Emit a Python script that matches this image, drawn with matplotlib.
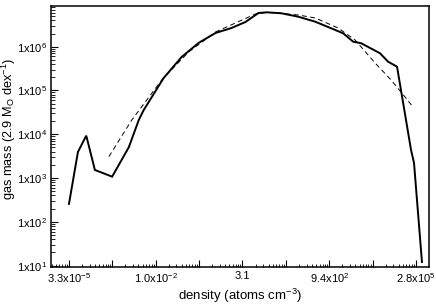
import numpy as np
import matplotlib
matplotlib.use("Agg")
import matplotlib.pyplot as plt
from matplotlib.ticker import NullFormatter

plt.rcParams["font.family"] = ["Liberation Sans", "DejaVu Sans"]
plt.rcParams["mathtext.default"] = "regular"

# ---- data ----
density_solid = [3.3e-5, 5.96e-5, 1.03e-4, 1.82e-4, 5.67e-4, 1.70e-3, 3.28e-3, 4.55e-3,
                 0.0169, 0.0552, 0.169, 0.516, 1.47, 3.70, 8.69, 14.7, 39.4, 120,
                 368, 1052, 2316, 4466, 7550, 2.63e4, 4.45e4, 8.04e4, 2.02e5, 2.46e5, 4.15e5]
mass_solid = [257, 3950, 9290, 1530, 1076, 5050, 2.12e4, 3.59e4,
              1.93e5, 5.82e5, 1.22e6, 2.06e6, 2.67e6, 3.67e6, 5.88e6, 6.10e6, 5.80e6, 4.84e6,
              3.72e6, 2.63e6, 2.02e6, 1.30e6, 1.20e6, 7.06e5, 4.55e5, 3.49e5, 4390, 2210, 12.1]

density_fit = [4.57e-4, 2.07e-3, 0.0149, 0.0875, 0.516, 1.92, 7.14, 16.8, 120, 368,
               1667, 5090, 1.89e4, 5.42e4, 1.36e5, 2.30e5]
mass_fit = [3080, 2.12e4, 1.74e5, 7.57e5, 2.17e6, 3.48e6, 5.58e6, 6.10e6, 5.30e6, 4.52e6,
            2.67e6, 1.42e6, 4.25e5, 1.74e5, 7.11e4, 4.20e4]

# x ticks: step factor between tall ticks, labels on every other one
x_tick_first = 3.3e-5
x_tick_last = 2.8e5
x_labels = ["3.3x10$^{-5}$", "1.0x10$^{-2}$", "3.1", "9.4x10$^{2}$", "2.8x10$^{5}$"]
y_labels = ["1x10$^{%d}$" % k for k in range(1, 7)]

# ---- plot ----
fig = plt.figure(figsize=(4.36, 3.08), dpi=100)
ax = fig.add_axes([51 / 436, 1 - 267 / 308, 378 / 436, 261 / 308])

ax.plot(density_solid, mass_solid, color="black", lw=1.4, solid_joinstyle="miter")
ax.plot(density_fit, mass_fit, color="black", lw=0.7, linestyle=(0, (5, 3.5)))

ax.set_xscale("log")
ax.set_yscale("log")
ax.set_xlim(1.01e-5, 6.6e5)
ax.set_ylim(9.3, 8.5e6)

# x major/minor ticks
n_steps = 8
step = (x_tick_last / x_tick_first) ** (1 / n_steps)
expo = np.log10(step)
majors = [x_tick_first * step ** i for i in range(n_steps + 1)]
minors = []
for i in range(-1, n_steps + 1):
    base = x_tick_first * step ** i
    for k in range(2, 10):
        v = base * k ** expo
        if 1.01e-5 < v < 6.6e5:
            minors.append(v)
ax.set_xticks(majors)
ax.set_xticklabels([x_labels[i // 2] if i % 2 == 0 else "" for i in range(n_steps + 1)])
ax.set_xticks(minors, minor=True)
ax.xaxis.set_minor_formatter(NullFormatter())

ax.set_yticks([10.0 ** k for k in range(1, 7)])
ax.set_yticklabels(y_labels)
ax.yaxis.set_minor_formatter(NullFormatter())

ax.tick_params(which="both", direction="in", top=False, right=False, labelsize=8, pad=3)
ax.tick_params(which="major", length=5, width=0.8)
ax.tick_params(which="minor", length=2.5, width=0.6)
ax.tick_params(axis="y", which="minor", length=3)

for s in ax.spines.values():
    s.set_linewidth(1.1)

ax.set_xlabel("density (atoms cm$^{-3}$)", fontsize=9.5, labelpad=1)
ax.set_ylabel("gas mass (2.9 M$_{O}$ dex$^{-1}$)", fontsize=9.2)
ax.yaxis.set_label_coords(-0.086, 0.53)

plt.savefig("out.png", dpi=100)
